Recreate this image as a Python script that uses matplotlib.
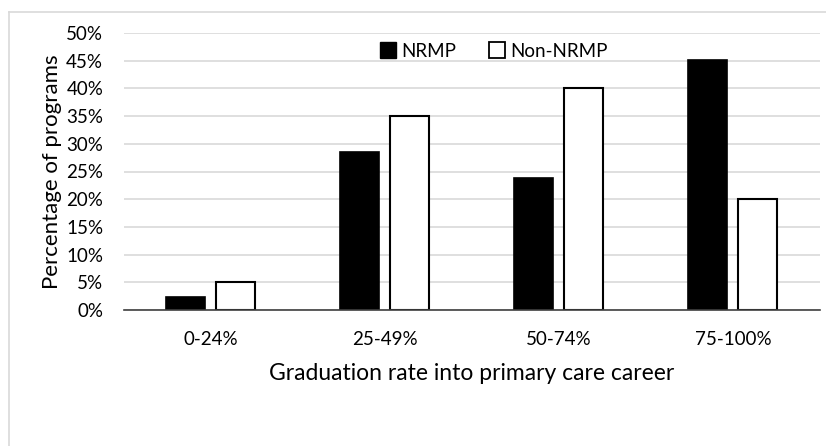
import matplotlib
matplotlib.use("Agg")
import matplotlib.pyplot as plt
from matplotlib.lines import Line2D
import numpy as np

categories = ["0-24%", "25-49%", "50-74%", "75-100%"]
nrmp = [2.4, 28.6, 23.8, 45.2]
non_nrmp = [5.0, 35.0, 40.0, 20.0]
yticks = [0, 5, 10, 15, 20, 25, 30, 35, 40, 45, 50]

plt.rcParams['font.family'] = ['Lato', 'DejaVu Sans']

fig = plt.figure(figsize=(8.26, 4.46), dpi=100)
ax = fig.add_axes([124 / 826, 1 - 310 / 446, 696 / 826, 277 / 446])

x = np.arange(len(categories))
w = 0.224
ax.bar(x - 0.144, nrmp, w, color="black", edgecolor="black", linewidth=1.2, label="NRMP", zorder=3)
ax.bar(x + 0.141, non_nrmp, w, color="white", edgecolor="black", linewidth=1.5, label="Non-NRMP", zorder=3)

ax.set_xlim(-0.5, len(categories) - 0.5)
ax.set_ylim(0, 50)
ax.set_yticks(yticks)
ax.set_yticklabels([f"{t}%" for t in yticks], fontsize=13.5)
ax.set_xticks(x)
ax.set_xticklabels(categories, fontsize=13.5)
ax.tick_params(axis="y", length=0, pad=15)
ax.tick_params(axis="x", length=0, pad=15)
ax.grid(axis="y", color="#d9d9d9", linewidth=1.2, zorder=0)
for s in ["top", "right", "left"]:
    ax.spines[s].set_visible(False)
ax.spines["bottom"].set_color("#404040")
ax.spines["bottom"].set_linewidth(1.2)
ax.spines["bottom"].set_zorder(4)

ax.set_xlabel("Graduation rate into primary care career", fontsize=16.5, labelpad=11)
ax.set_ylabel("Percentage of programs", fontsize=16, labelpad=3)

handles = [
    Line2D([], [], marker="s", linestyle="none", markersize=11, markerfacecolor="black", markeredgecolor="black"),
    Line2D([], [], marker="s", linestyle="none", markersize=11, markerfacecolor="white", markeredgecolor="black", markeredgewidth=1.3),
]
ax.legend(handles, ["NRMP", "Non-NRMP"], loc="center", bbox_to_anchor=(0.532, 0.935), ncol=2,
          frameon=False, fontsize=13.5, handletextpad=0.3, columnspacing=1.8, handlelength=0.8)

# light outline of the chart area
fig.add_artist(Line2D([9 / 826, 9 / 826], [0, 1 - 12 / 446], color="#d9d9d9", linewidth=1.2))
fig.add_artist(Line2D([9 / 826, 1], [1 - 12 / 446, 1 - 12 / 446], color="#d9d9d9", linewidth=1.2))

fig.savefig("out.png", dpi=100)
